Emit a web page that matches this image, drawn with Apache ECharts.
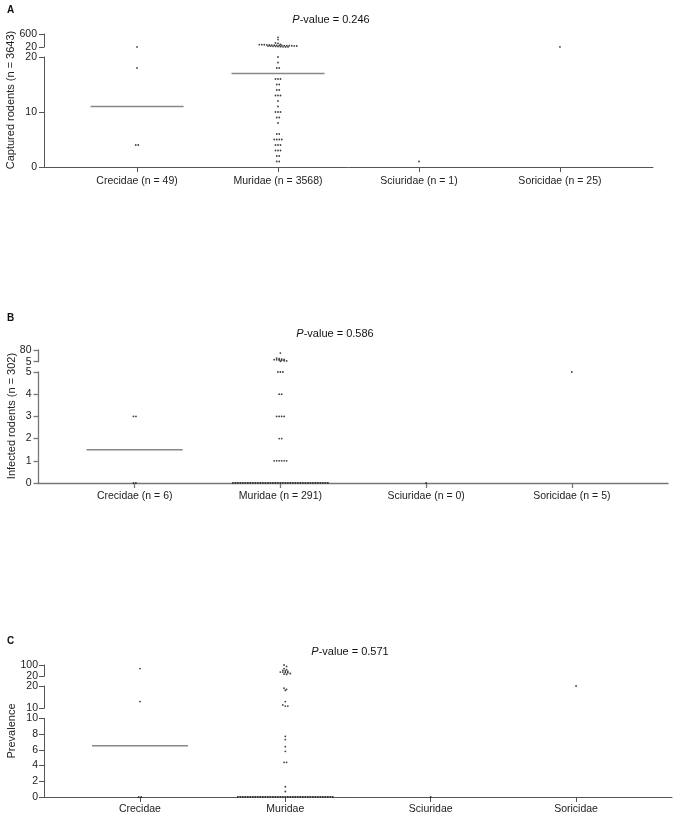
<!DOCTYPE html>
<html>
<head>
<meta charset="utf-8">
<script src="https://cdn.jsdelivr.net/npm/echarts@6/dist/echarts.min.js"></script>
<style>
html,body{margin:0;padding:0;background:#fff;}
#c{width:677px;height:815px;}
</style>
</head>
<body>
<div id="c"></div>
<script>
// ---------------- DATA ----------------
const familiesA = ['Crecidae (n = 49)', 'Muridae (n = 3568)', 'Sciuridae (n = 1)', 'Soricidae (n = 25)'];
const familiesB = ['Crecidae (n = 6)', 'Muridae (n = 291)', 'Sciuridae (n = 0)', 'Soricidae (n = 5)'];
const familiesC = ['Crecidae', 'Muridae', 'Sciuridae', 'Soricidae'];

const pValues = ['0.246', '0.586', '0.571'];
const yNames = ['Captured rodents (n = 3643)', 'Infected rodents (n = 302)', 'Prevalence'];
const panelLetters = ['A', 'B', 'C'];

// A: captured rodents per site
const capturedCrecidae = [23, 18, 4, 4];
const capturedMuridae = [
  20, 19, 18, 18, 16, 16, 16, 15, 15, 14, 14, 13, 13, 13, 12, 11, 10, 10, 10, 9, 9, 8,
  6, 6, 5, 5, 5, 5, 4, 4, 4, 3, 3, 3, 2, 2, 1, 1,
  450, 350, 200, 182, 135, 130, 125, 120, 115, 110, 105, 100, 95, 90, 88, 85, 80, 78,
  75, 70, 65, 60, 55, 50, 45, 40, 35, 30, 25, 22
];
const capturedSciuridae = [1];
const capturedSoricidae = [25];

// B: infected rodents per site
const infectedCrecidae = [3, 3, 0, 0];
const infectedMuridae = [
  0, 0, 0, 0, 0, 0, 0, 0, 0, 0, 0, 0, 0, 0, 0, 0, 0, 0, 0, 0,
  0, 0, 0, 0, 0, 0, 0, 0, 0, 0, 0, 0, 0, 0, 0, 0, 0, 0, 0,
  1, 1, 1, 1, 1, 1, 2, 2, 3, 3, 3, 3, 4, 4, 5, 5, 5,
  60, 28, 24, 21, 19, 18, 17, 16, 14, 11, 10, 8
];
const infectedSciuridae = [0];
const infectedSoricidae = [5];

// C: prevalence per site
const prevalenceCrecidae = [75, 13, 0, 0];
const prevalenceMuridae = [
  0, 0, 0, 0, 0, 0, 0, 0, 0, 0, 0, 0, 0, 0, 0, 0, 0, 0, 0, 0,
  0, 0, 0, 0, 0, 0, 0, 0, 0, 0, 0, 0, 0, 0, 0, 0, 0, 0, 0,
  0.7, 1.3, 4.4, 4.4, 5.8, 6.4, 7.3, 7.7,
  11, 11, 11.5, 13, 18, 18.5, 19,
  100, 90, 75, 67, 62, 58, 55, 50, 50, 47, 45, 40, 35, 33
];
const prevalenceSciuridae = [0];
const prevalenceSoricidae = [20];

// ---------------- LAYOUT ----------------
const FONT = '"Liberation Sans", Arial, Helvetica, sans-serif';
const X_MIN = -0.66, X_MAX = 3.66;
const W = 677;
const DOT_GAP = 2.5;     // px between neighbouring dots in a row
const ROW_TOL = 1.5;     // px tolerance to share a row
const MEDIAN_HALF = 0.33;

const panels = [
  {
    cats: familiesA,
    series: [capturedCrecidae, capturedMuridae, capturedSciuridae, capturedSoricidae],
    left: 44, right: 24, axisColor: '#555', axisWidth: 1,
    labelMargin: 7, xLabelMargin: 9,
    segs: [
      { min: 0, max: 20, top: 57, height: 110, interval: 10 },
      { min: 20, max: 600, top: 34, height: 13, ticks: [20, 600] }
    ],
    title: { x: 331, y: 20 }, letter: { x: 7, y: 10 }, name: { x: 11, y: 100 }
  },
  {
    cats: familiesB,
    series: [infectedCrecidae, infectedMuridae, infectedSciuridae, infectedSoricidae],
    left: 38.5, right: 9, axisColor: '#777', axisWidth: 1.3,
    labelMargin: 7, xLabelMargin: 8,
    segs: [
      { min: 0, max: 5, top: 372, height: 111, interval: 1 },
      { min: 5, max: 80, top: 350, height: 11.7, ticks: [5, 80] }
    ],
    title: { x: 335, y: 334 }, letter: { x: 7, y: 318 }, name: { x: 12, y: 416 }
  },
  {
    cats: familiesC,
    series: [prevalenceCrecidae, prevalenceMuridae, prevalenceSciuridae, prevalenceSoricidae],
    left: 44, right: 5, axisColor: '#555', axisWidth: 1,
    labelMargin: 6, xLabelMargin: 7,
    segs: [
      { min: 0, max: 10, top: 718.3, height: 79, interval: 2 },
      { min: 10, max: 20, top: 686, height: 22.3, ticks: [10, 20] },
      { min: 20, max: 100, top: 665, height: 11.3, ticks: [20, 100] }
    ],
    title: { x: 350, y: 652 }, letter: { x: 7, y: 641 }, name: { x: 12, y: 731 }
  }
];

// ---------------- BUILD ----------------
const grids = [], xAxes = [], yAxes = [], seriesList = [], graphics = [];

function segIndex(p, v) {
  for (let k = 0; k < p.segs.length; k++) {
    const s = p.segs[k];
    const lowOk = k === 0 ? v >= s.min : v > s.min;
    if (lowOk && v <= s.max) return k;
  }
  return p.segs.length - 1;
}
function median(arr) {
  const s = arr.slice().sort((a, b) => a - b);
  const n = s.length;
  return n % 2 ? s[(n - 1) / 2] : (s[n / 2 - 1] + s[n / 2]) / 2;
}

panels.forEach((p, pi) => {
  const gridIdx = [];
  const spacing = (W - p.left - p.right) / (X_MAX - X_MIN);
  const lineStyle = { color: p.axisColor, width: p.axisWidth };
  p.segs.forEach((s, k) => {
    const g = grids.length;
    gridIdx.push(g);
    grids.push({ left: p.left, right: p.right, top: s.top, height: s.height, containLabel: false });
    const isBase = k === 0;
    xAxes.push({
      type: 'value', gridIndex: g, min: X_MIN, max: X_MAX, show: isBase,
      axisLine: { show: true, onZero: false, lineStyle: lineStyle },
      axisTick: { show: true, length: 5, customValues: [0, 1, 2, 3], lineStyle: lineStyle },
      axisLabel: {
        show: true, customValues: [0, 1, 2, 3], margin: p.xLabelMargin,
        formatter: v => p.cats[Math.round(v)] || '',
        fontFamily: FONT, fontSize: 10.5, color: '#222'
      },
      splitLine: { show: false }
    });
    const yAxis = {
      type: 'value', gridIndex: g, min: s.min, max: s.max,
      axisLine: { show: true, onZero: false, lineStyle: lineStyle },
      axisTick: { show: true, length: 5, lineStyle: lineStyle },
      axisLabel: { fontFamily: FONT, fontSize: 10.5, color: '#222', margin: p.labelMargin },
      splitLine: { show: false }
    };
    if (s.ticks) {
      yAxis.axisTick.customValues = s.ticks;
      yAxis.axisLabel.customValues = s.ticks;
    } else {
      yAxis.interval = s.interval;
    }
    yAxes.push(yAxis);
  });

  // points per segment, laid out as a dot strip (same-height dots side by side)
  const segData = p.segs.map(() => []);
  p.series.forEach((vals, ci) => {
    const pts = vals.map(v => {
      const k = segIndex(p, v), s = p.segs[k];
      const py = s.top + s.height * (1 - (v - s.min) / (s.max - s.min));
      return { v, k, py };
    }).sort((a, b) => a.py - b.py || a.v - b.v);
    const rows = [];
    pts.forEach(pt => {
      const last = rows[rows.length - 1];
      if (last && pt.py - last.start <= ROW_TOL) last.items.push(pt);
      else rows.push({ start: pt.py, items: [pt] });
    });
    rows.forEach(r => {
      const n = r.items.length;
      r.items.forEach((pt, j) => {
        const dx = (j - (n - 1) / 2) * DOT_GAP / spacing;
        segData[pt.k].push([ci + dx, pt.v]);
      });
    });
  });
  segData.forEach((d, k) => {
    seriesList.push({
      type: 'scatter', xAxisIndex: gridIdx[k], yAxisIndex: gridIdx[k],
      data: d, symbol: 'circle', symbolSize: 1.8, silent: true, z: 3,
      itemStyle: { color: '#111' }
    });
  });

  // medians (only for groups with more than one site)
  const medData = p.segs.map(() => []);
  p.series.forEach((vals, ci) => {
    if (vals.length < 2) return;
    const m = median(vals);
    medData[segIndex(p, m)].push([ci, m]);
  });
  medData.forEach((d, k) => {
    if (!d.length) return;
    seriesList.push({
      type: 'custom', xAxisIndex: gridIdx[k], yAxisIndex: gridIdx[k], data: d, silent: true, z: 2,
      renderItem: (params, api) => {
        const c = api.value(0), m = api.value(1);
        const a = api.coord([c - MEDIAN_HALF, m]), b = api.coord([c + MEDIAN_HALF, m]);
        return { type: 'line', shape: { x1: a[0], y1: a[1], x2: b[0], y2: b[1] },
                 style: { stroke: '#888', lineWidth: 1.5 } };
      }
    });
  });

  // texts
  graphics.push({
    type: 'text', x: p.title.x, y: p.title.y,
    style: {
      text: '{i|P}{n|-value = ' + pValues[pi] + '}',
      align: 'center', verticalAlign: 'middle',
      rich: {
        i: { fontStyle: 'italic', fontSize: 11, fontFamily: FONT, fill: '#111' },
        n: { fontSize: 11, fontFamily: FONT, fill: '#111' }
      }
    }
  });
  graphics.push({
    type: 'text', x: p.letter.x, y: p.letter.y,
    style: { text: panelLetters[pi], fontWeight: 'bold', fontSize: 10, fontFamily: FONT,
             fill: '#111', align: 'left', verticalAlign: 'middle' }
  });
  graphics.push({
    type: 'text', x: p.name.x, y: p.name.y, rotation: Math.PI / 2,
    style: { text: yNames[pi], fontSize: 11, fontFamily: FONT, fill: '#222',
             align: 'center', verticalAlign: 'middle' }
  });
});

const chart = echarts.init(document.getElementById('c'), null, { renderer: 'canvas' });
chart.setOption({
  backgroundColor: '#fff',
  animation: false,
  grid: grids,
  xAxis: xAxes,
  yAxis: yAxes,
  series: seriesList,
  graphic: graphics
});
</script>
</body>
</html>
